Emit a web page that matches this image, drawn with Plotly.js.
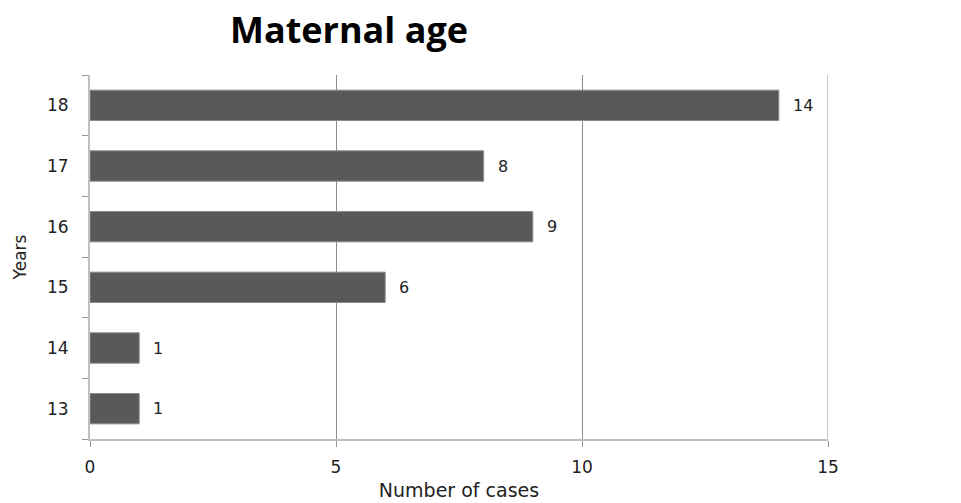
<!DOCTYPE html>
<html><head><meta charset="utf-8">
<script src="https://cdn.plot.ly/plotly-3.0.1.min.js"></script>
<style>body{margin:0;background:#fff}#c{width:961px;height:503px}</style>
</head><body><div id="c"></div>
<script>
const years = ['13','14','15','16','17','18'];
const cases = [1, 1, 6, 9, 8, 14];
const titleText = 'Maternal age';
const xTitle = 'Number of cases';
const yTitle = 'Years';

const FONT = 'DejaVu Sans, sans-serif';
const trace = {
  type: 'bar', orientation: 'h', x: cases, y: years,
  width: 0.5,
  marker: {color: '#595959', line: {color: '#8a8a8a', width: 1}},
  hoverinfo: 'skip'
};
const annotations = cases.map((v, i) => ({
  x: v, y: i, xref: 'x', yref: 'y', text: String(v),
  showarrow: false, xanchor: 'left', xshift: 12,
  font: {family: FONT, size: 16, color: '#222'}
}));
const layout = {
  width: 961, height: 503,
  margin: {l: 90, r: 133, t: 75, b: 64},
  paper_bgcolor: '#fff', plot_bgcolor: '#fff',
  showlegend: false,
  title: {text: '<b>' + titleText + '</b>', x: 349/961, xanchor: 'center', y: 0.94, yanchor: 'middle',
    font: {family: 'Open Sans, sans-serif', size: 36, color: '#000'}},
  xaxis: {range: [0, 15], tickvals: [0, 5, 10, 15], ticks: 'outside', ticklen: 6, tickcolor: '#999',
    ticklabelstandoff: 6,
    showgrid: true, gridcolor: '#8c8c8c', gridwidth: 1, zeroline: false,
    showline: true, linecolor: '#c0c0c0', linewidth: 2,
    tickfont: {family: FONT, size: 17, color: '#222'},
    title: {text: xTitle, standoff: 7, font: {family: FONT, size: 19, color: '#222'}}},
  yaxis: {type: 'category', categoryorder: 'array', categoryarray: years,
    ticks: 'outside', tickson: 'boundaries', ticklen: 6, tickcolor: '#999',
    ticklabelstandoff: 16,
    showgrid: false, showline: true, linecolor: '#c0c0c0', linewidth: 2,
    tickfont: {family: FONT, size: 17, color: '#222'},
    title: {text: yTitle, standoff: 16, font: {family: FONT, size: 17, color: '#222'}}},
  shapes: [{type: 'line', xref: 'x', yref: 'paper', x0: 15, x1: 15, y0: 0, y1: 1,
    line: {color: '#c8c8c8', width: 2}}],
  annotations: annotations
};
Plotly.newPlot('c', [trace], layout, {displayModeBar: false, staticPlot: true});
</script></body></html>
